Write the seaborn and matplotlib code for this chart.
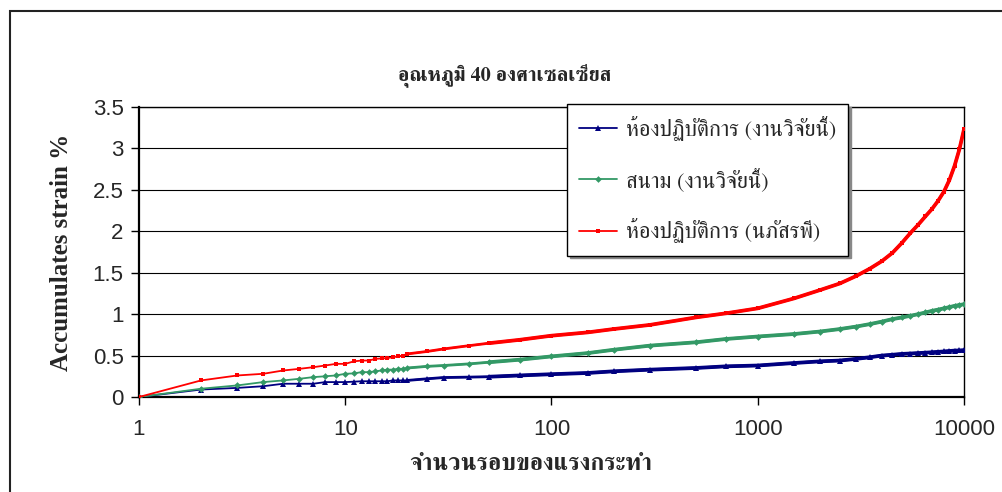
import matplotlib
matplotlib.use('Agg')
import numpy as np
import pandas as pd
import matplotlib.pyplot as plt
import seaborn as sns
from matplotlib.patches import Rectangle
from matplotlib.lines import Line2D

# cycles (log x) and accumulated strain %
cycles = [1, 2, 3, 4, 5, 6, 7, 8, 9, 10, 11, 12, 13, 14, 15, 16, 17, 18, 19, 20,
          25, 30, 40, 50, 70, 100, 150, 200, 300, 500, 700, 1000, 1500, 2000,
          2500, 3000, 3500, 4000, 4500, 5000, 5500, 6000, 6500, 7000, 7500,
          8000, 8500, 9000, 9500, 10000]
lab_this = [0, 0.09, 0.11, 0.13, 0.16, 0.16, 0.16, 0.18, 0.18, 0.18, 0.185, 0.19,
            0.19, 0.19, 0.19, 0.19, 0.2, 0.2, 0.2, 0.2,
            0.22, 0.235, 0.24, 0.245, 0.26, 0.275, 0.29, 0.31, 0.33, 0.35, 0.37,
            0.38, 0.41, 0.43, 0.44, 0.46, 0.48, 0.50, 0.51, 0.52, 0.525, 0.53,
            0.535, 0.54, 0.545, 0.55, 0.555, 0.56, 0.562, 0.565]
field_this = [0, 0.10, 0.14, 0.18, 0.20, 0.22, 0.24, 0.25, 0.26, 0.28, 0.285, 0.30,
              0.30, 0.31, 0.32, 0.33, 0.33, 0.34, 0.34, 0.35,
              0.37, 0.38, 0.40, 0.42, 0.45, 0.49, 0.53, 0.57, 0.62, 0.66, 0.70,
              0.73, 0.76, 0.79, 0.82, 0.85, 0.88, 0.91, 0.94, 0.96, 0.98, 1.00,
              1.02, 1.04, 1.055, 1.07, 1.085, 1.10, 1.11, 1.12]
lab_napat = [0, 0.2, 0.26, 0.28, 0.32, 0.34, 0.36, 0.38, 0.40, 0.40, 0.43, 0.44,
             0.44, 0.46, 0.465, 0.47, 0.48, 0.49, 0.50, 0.52,
             0.55, 0.58, 0.62, 0.65, 0.69, 0.74, 0.78, 0.82, 0.87, 0.96, 1.01,
             1.07, 1.19, 1.29, 1.37, 1.46, 1.55, 1.64, 1.74, 1.86, 1.98, 2.08,
             2.18, 2.27, 2.37, 2.48, 2.62, 2.79, 2.99, 3.23]

labels = ['ห้องปฏิบัติการ (งานวิจัยนี้)', 'สนาม (งานวิจัยนี้)', 'ห้องปฏิบัติการ (นภัสรพี)']
colors = ['#000080', '#339966', '#FF0000']
markers = ['^', 'D', 's']
msizes = [4.0, 3.4, 3.4]

title = 'อุณหภูมิ 40 องศาเซลเซียส'
xlabel = 'จำนวนรอบของแรงกระทำ'
ylabel = 'Accumulates strain %'
xticks = [1, 10, 100, 1000, 10000]
yticks = [0, 0.5, 1, 1.5, 2, 2.5, 3, 3.5]

THAI = ['FreeSerif', 'DejaVu Serif']


def main():
    sns.set_style('white')
    plt.rcParams['font.family'] = ['Liberation Sans', 'DejaVu Sans']

    df = pd.DataFrame({'cycles': cycles, labels[0]: lab_this,
                       labels[1]: field_this, labels[2]: lab_napat})

    fig = plt.figure(figsize=(10.03, 4.92), dpi=100)
    ax = fig.add_axes([139 / 1003, 1 - 397 / 492, (964 - 139) / 1003, (397 - 107) / 492])

    for lab, c, m, ms in zip(labels, colors, markers, msizes):
        sns.lineplot(data=df, x='cycles', y=lab, ax=ax, color=c, lw=1.3,
                     marker=m, markersize=ms, markeredgewidth=0, legend=False, zorder=3)
        # one point per cycle in the source makes the line look thick further out
        sns.lineplot(data=df[df['cycles'] >= 20], x='cycles', y=lab, ax=ax, color=c,
                     lw=2.0, legend=False, zorder=3)
        sns.lineplot(data=df[df['cycles'] >= 50], x='cycles', y=lab, ax=ax, color=c,
                     lw=2.7, legend=False, zorder=3)

    ax.set_xscale('log')
    ax.set_xlim(1, 10000)
    ax.set_ylim(0, 3.5)
    ax.set_xticks(xticks)
    ax.set_xticklabels([str(t) for t in xticks])
    ax.minorticks_off()
    ax.set_yticks(yticks)
    ax.set_yticklabels(['0', '0.5', '1', '1.5', '2', '2.5', '3', '3.5'])
    ax.tick_params(axis='both', labelsize=16, direction='out', length=6, width=1,
                   color='black', bottom=True, left=True)
    ax.tick_params(axis='x', pad=10)
    ax.tick_params(axis='y', pad=5)
    ax.yaxis.grid(True, color='black', lw=0.8)
    ax.xaxis.grid(False)
    for s in ax.spines.values():
        s.set_visible(True)
        s.set_color('black')
        s.set_linewidth(1.0)
    ax.spines['left'].set_linewidth(1.6)
    ax.spines['bottom'].set_linewidth(1.6)

    ax.set_xlabel(xlabel, family=THAI, fontweight='bold', fontsize=17)
    ax.xaxis.set_label_coords((531 - 139) / 825, -(465 - 397) / 290)
    ax.xaxis.label.set_va('center')
    ax.set_ylabel(ylabel, family='Liberation Serif', fontweight='bold', fontsize=18, labelpad=14)
    fig.text(505 / 1003, 1 - 75 / 492, title, family=THAI, fontweight='bold',
             fontsize=14.5, ha='center', va='center')

    handles = [Line2D([], [], color=c, lw=1.3, marker=m, markersize=ms, markeredgewidth=0)
               for c, m, ms in zip(colors, markers, msizes)]
    leg = ax.legend(handles, labels, loc='upper left',
                    bbox_to_anchor=(567 / 1003, 1 - 104 / 492), bbox_transform=fig.transFigure,
                    prop={'family': THAI, 'size': 16}, frameon=True, fancybox=False,
                    shadow={'color': '#888888', 'alpha': 1.0}, edgecolor='black',
                    borderaxespad=0, numpoints=1, handlelength=1.7, handletextpad=0.4,
                    labelspacing=1.2, borderpad=0.55)
    leg.get_frame().set_linewidth(1.0)
    leg.set_zorder(5)

    # outer chart frame
    fig.patches.append(Rectangle((10 / 1003, -0.1), 1.2, 1.1 - 11 / 492,
                                 transform=fig.transFigure, fill=False,
                                 edgecolor='#222222', lw=1.5))

    fig.savefig('out.png', dpi=100)
    plt.close(fig)


if __name__ == '__main__':
    main()
